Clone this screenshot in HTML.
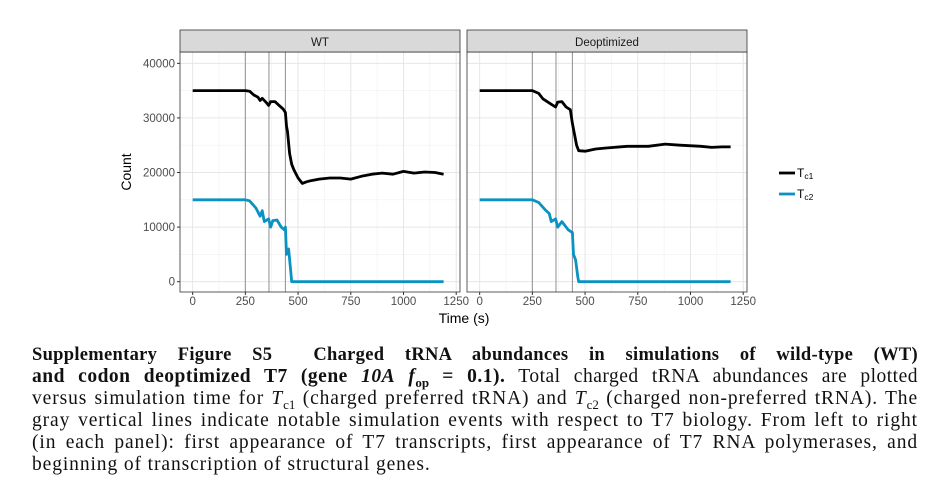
<!DOCTYPE html>
<html><head><meta charset="utf-8">
<style>
html,body{margin:0;padding:0;background:#fff;}
body{width:950px;height:500px;position:relative;overflow:hidden;}
svg{position:absolute;left:0;top:0;}
.cap{position:absolute;left:32px;width:886px;font-family:"Liberation Serif",serif;font-size:19.5px;letter-spacing:0.9px;line-height:22px;color:#111;white-space:nowrap;text-align:justify;text-align-last:justify;}
.cap.last{text-align-last:left;}
b{font-weight:bold;}
sub{font-size:13px;letter-spacing:0;}
</style></head>
<body>
<svg id="chart" width="950" height="340"></svg>
<div class="cap" style="top:344px;font-size:18.5px;letter-spacing:0.3px"><b>Supplementary Figure S5&nbsp; Charged tRNA abundances in simulations of wild-type (WT)</b></div>
<div class="cap" style="top:366px;letter-spacing:0.5px"><b>and codon deoptimized T7 (gene <i>10A</i> <i>f</i><sub>op</sub> = 0.1).</b> Total charged tRNA abundances are plotted</div>
<div class="cap" style="top:388px">versus simulation time for <i>T</i><sub>c1</sub> (charged preferred tRNA) and <i>T</i><sub>c2</sub> (charged non-preferred tRNA). The</div>
<div class="cap" style="top:410px">gray vertical lines indicate notable simulation events with respect to T7 biology. From left to right</div>
<div class="cap" style="top:432px">(in each panel): first appearance of T7 transcripts, first appearance of T7 RNA polymerases, and</div>
<div class="cap last" style="top:454px">beginning of transcription of structural genes.</div>
<script>
const panelNames = ["WT","Deoptimized"];
const eventTimes = [250,362,440];
const xTicks = [0,250,500,750,1000,1250];
const yTicks = [0,10000,20000,30000,40000];
const wtTc1T = [0,250,270,290,310,320,330,350,360,370,390,410,430,440,445,450,460,470,480,500,520,540,560,600,650,700,750,800,850,900,950,1000,1050,1100,1150,1190];
const wtTc1V = [35000,35000,34900,34200,33800,33200,33600,32800,32300,33000,33000,32300,31600,31000,28500,27500,23500,21500,20500,19000,18000,18300,18500,18800,19000,19000,18800,19300,19700,19900,19700,20200,19900,20100,20000,19700];
const wtTc2T = [0,250,270,300,320,330,340,360,370,380,400,420,435,440,445,455,465,470,1190];
const wtTc2V = [15000,15000,14800,13500,12000,13000,11000,11500,10000,11200,11300,10000,9500,10000,5000,6000,2000,0,0];
const deTc1T = [0,250,280,300,320,340,360,370,390,410,430,440,450,460,470,500,550,600,700,800,880,950,1050,1100,1150,1190];
const deTc1V = [35000,35000,34500,33500,33000,32500,32000,32900,33000,32000,31500,29000,27000,25000,24000,23900,24300,24500,24800,24800,25200,25000,24800,24600,24700,24700];
const deTc2T = [0,250,280,310,330,340,360,370,390,420,440,445,455,465,470,1190];
const deTc2V = [15000,15000,14500,13200,12500,11000,11500,10000,11000,9500,9000,5000,4000,1000,0,0];
const seriesNames = ["Tc1","Tc2"];
const colors = ["#000000","#0a92c2"];

const NS="http://www.w3.org/2000/svg";
const svg=document.getElementById('chart');
function mk(t,a,p){const e=document.createElementNS(NS,t);for(const k in a)e.setAttribute(k,a[k]);(p||svg).appendChild(e);return e;}
const panels=[{x0:180,x1:460},{x0:467,x1:747}];
const pTop=52,pBot=292,stripTop=30;
const xMin=-60,xMax=1268,yMin=-1890,yMax=42080;
function xs(p,v){return p.x0+(v-xMin)/(xMax-xMin)*(p.x1-p.x0);}
function ys(v){return pBot-(v-yMin)/(yMax-yMin)*(pBot-pTop);}
const data=[[[wtTc1T,wtTc1V],[wtTc2T,wtTc2V]],[[deTc1T,deTc1V],[deTc2T,deTc2V]]];
const font='"Liberation Sans",sans-serif';
panels.forEach((p,i)=>{
  const g=mk('g',{});
  
  
  mk('rect',{x:p.x0,y:pTop,width:p.x1-p.x0,height:pBot-pTop,fill:'#fff'},g);
  for(let k=0;k<xTicks.length-1;k++){const v=(xTicks[k]+xTicks[k+1])/2;mk('line',{x1:xs(p,v),x2:xs(p,v),y1:pTop,y2:pBot,stroke:'#f0f0f0','stroke-width':0.6},g);}
  for(let k=0;k<yTicks.length-1;k++){const v=(yTicks[k]+yTicks[k+1])/2;mk('line',{x1:p.x0,x2:p.x1,y1:ys(v),y2:ys(v),stroke:'#f0f0f0','stroke-width':0.6},g);}
  xTicks.forEach(v=>mk('line',{x1:xs(p,v),x2:xs(p,v),y1:pTop,y2:pBot,stroke:'#e6e6e6','stroke-width':1},g));
  yTicks.forEach(v=>mk('line',{x1:p.x0,x2:p.x1,y1:ys(v),y2:ys(v),stroke:'#e6e6e6','stroke-width':1},g));
  eventTimes.forEach(v=>{const l=mk('line',{x1:xs(p,v),x2:xs(p,v),y1:pTop,y2:pBot,stroke:'#999','stroke-width':1.1},g);});
  data[i].forEach((s,j)=>{
    const pts=s[0].map((t,k)=>xs(p,t).toFixed(1)+','+ys(s[1][k]).toFixed(1)).join(' ');
    const pl=mk('polyline',{points:pts,fill:'none',stroke:colors[j],'stroke-width':2.8,'stroke-linejoin':'round'},g);
    
    
  });
  mk('rect',{x:p.x0,y:pTop,width:p.x1-p.x0,height:pBot-pTop,fill:'none',stroke:'#333','stroke-width':0.8},g);
  const st=mk('rect',{x:p.x0,y:stripTop,width:p.x1-p.x0,height:pTop-stripTop,fill:'#d9d9d9',stroke:'#333','stroke-width':0.8},g);
  
  
  const tt=mk('text',{x:(p.x0+p.x1)/2,y:46,'text-anchor':'middle','font-family':font,'font-size':11.5,fill:'#1a1a1a'},g);tt.textContent=panelNames[i];
  xTicks.forEach(v=>{mk('line',{x1:xs(p,v),x2:xs(p,v),y1:pBot,y2:pBot+3,stroke:'#333'},g);
    const t=mk('text',{x:xs(p,v),y:pBot+13,'text-anchor':'middle','font-family':font,'font-size':11.5,fill:'#4d4d4d'},g);t.textContent=v;
    });
});
yTicks.forEach(v=>{mk('line',{x1:177,x2:180,y1:ys(v),y2:ys(v),stroke:'#333'});
  const t=mk('text',{x:175,y:ys(v)+4,'text-anchor':'end','font-family':font,'font-size':11.5,fill:'#4d4d4d'});t.textContent=v;
  });
const yt=mk('text',{x:0,y:0,transform:'translate(131,172) rotate(-90)','text-anchor':'middle','font-family':font,'font-size':14,fill:'#000'});yt.textContent='Count';

const xt=mk('text',{x:464,y:323,'text-anchor':'middle','font-family':font,'font-size':14,fill:'#000'});xt.textContent='Time (s)';

seriesNames.forEach((n,j)=>{
  const g=mk('g',{});
  
  
  const y=173+j*21;
  mk('line',{x1:779,x2:795,y1:y,y2:y,stroke:colors[j],'stroke-width':2.8},g);
  const t=mk('text',{x:797,y:y+4,'font-family':font,'font-size':12,fill:'#000'},g);
  t.textContent='T';
  const s=mk('tspan',{'font-size':8.5,dy:2},t);s.textContent=n.slice(1);
});
</script>
</body></html>
